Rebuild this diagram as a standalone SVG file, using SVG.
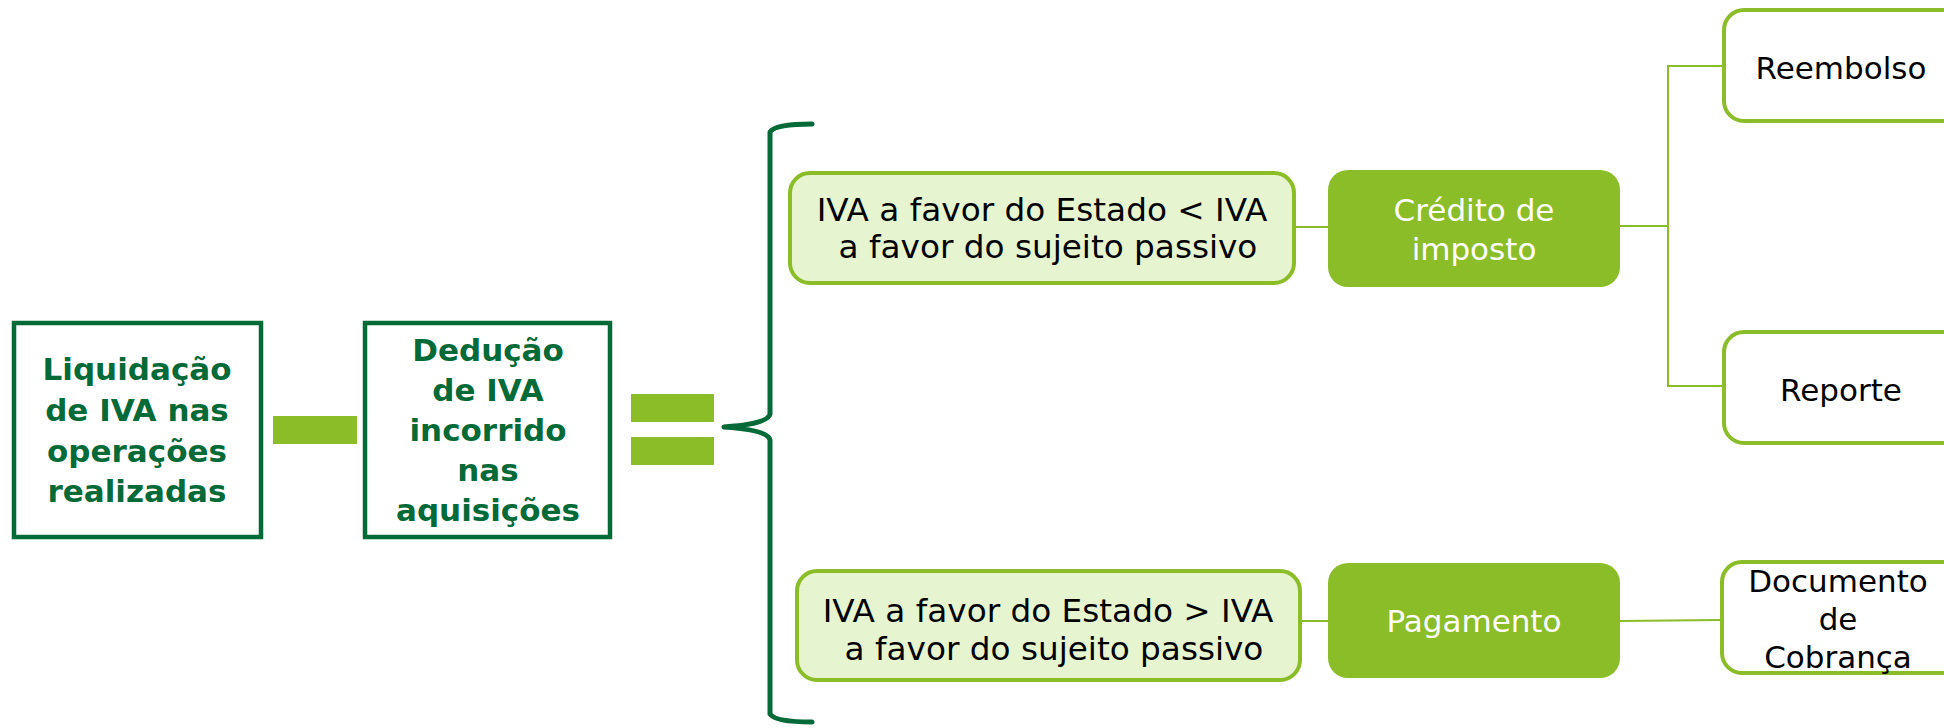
<svg xmlns="http://www.w3.org/2000/svg" width="1944" height="728" viewBox="0 0 1944 728">
<style>
.dk{fill:#fff;stroke:#046A38;stroke-width:4.5}
.bt{font-family:"DejaVu Sans","Liberation Sans",sans-serif;font-weight:bold;font-size:31px;fill:#046A38;text-anchor:middle}
.bar{fill:#8ABD28}
.lt{fill:#E6F5D0;stroke:#8ABD28;stroke-width:4}
.wt{fill:#fff;stroke:#8ABD28;stroke-width:4}
.fl{fill:#8ABD28}
.t{font-family:"DejaVu Sans","Liberation Sans",sans-serif;font-size:31px;text-anchor:middle;fill:#000}
.ti{font-family:"DejaVu Sans","Liberation Sans",sans-serif;font-size:32.7px;text-anchor:middle;fill:#000}
.tw{font-family:"DejaVu Sans","Liberation Sans",sans-serif;font-size:31px;text-anchor:middle;fill:#fff}
.c{stroke:#8ABD28;stroke-width:2;fill:none}
</style>
<rect width="1944" height="728" fill="#fff"/>
<g id="liquidacao">
<rect class="dk" x="14" y="323" width="247" height="214"/>
<text class="bt" x="137" y="380">Liquidação</text>
<text class="bt" x="137" y="421">de IVA nas</text>
<text class="bt" x="137" y="462">operações</text>
<text class="bt" x="137" y="502">realizadas</text>
</g>
<g id="minus"><rect class="bar" x="273" y="416" width="84" height="28"/></g>
<g id="deducao">
<rect class="dk" x="365" y="323" width="245" height="214"/>
<text class="bt" x="488" y="361">Dedução</text>
<text class="bt" x="488" y="401">de IVA</text>
<text class="bt" x="488" y="441">incorrido</text>
<text class="bt" x="488" y="481">nas</text>
<text class="bt" x="488" y="521">aquisições</text>
</g>
<g id="equals">
<rect class="bar" x="631" y="394" width="83" height="28"/>
<rect class="bar" x="631" y="437" width="83" height="28"/>
</g>
<g id="brace">
<path d="M812,124 Q775,124 770,132 L770,414 Q768,424 724,427 Q768,430 770,440 L770,714 Q775,722 812,722" fill="none" stroke="#046A38" stroke-width="5" stroke-linecap="round" stroke-linejoin="round"/>
</g>
<g id="connectors">
<line class="c" x1="1296" y1="227" x2="1328" y2="227"/>
<line class="c" x1="1620" y1="226" x2="1668" y2="226"/>
<polyline class="c" points="1722,66 1668,66 1668,386 1722,386"/>
<line class="c" x1="1302" y1="621" x2="1328" y2="621"/>
<line class="c" x1="1620" y1="621" x2="1720" y2="620"/>
</g>
<g id="iva-menor">
<rect class="lt" x="790" y="173" width="504" height="110" rx="20"/>
<text class="ti" x="1042" y="221">IVA a favor do Estado &lt; IVA</text>
<text class="ti" x="1048" y="258">a favor do sujeito passivo</text>
</g>
<g id="credito">
<rect class="fl" x="1328" y="170" width="292" height="117" rx="20"/>
<text class="tw" x="1474" y="221">Crédito de</text>
<text class="tw" x="1474" y="260">imposto</text>
</g>
<g id="reembolso">
<rect class="wt" x="1724" y="10" width="240" height="111" rx="20"/>
<text class="t" x="1841" y="79">Reembolso</text>
</g>
<g id="reporte">
<rect class="wt" x="1724" y="332" width="240" height="111" rx="20"/>
<text class="t" x="1841" y="401">Reporte</text>
</g>
<g id="iva-maior">
<rect class="lt" x="797" y="571" width="503" height="109" rx="20"/>
<text class="ti" x="1048" y="622">IVA a favor do Estado &gt; IVA</text>
<text class="ti" x="1054" y="660">a favor do sujeito passivo</text>
</g>
<g id="pagamento">
<rect class="fl" x="1328" y="563" width="292" height="115" rx="20"/>
<text class="tw" x="1474" y="632">Pagamento</text>
</g>
<g id="documento">
<rect class="wt" x="1722" y="562" width="240" height="111" rx="20"/>
<text class="t" x="1838" y="592">Documento</text>
<text class="t" x="1838" y="630">de</text>
<text class="t" x="1838" y="668">Cobrança</text>
</g>
</svg>
